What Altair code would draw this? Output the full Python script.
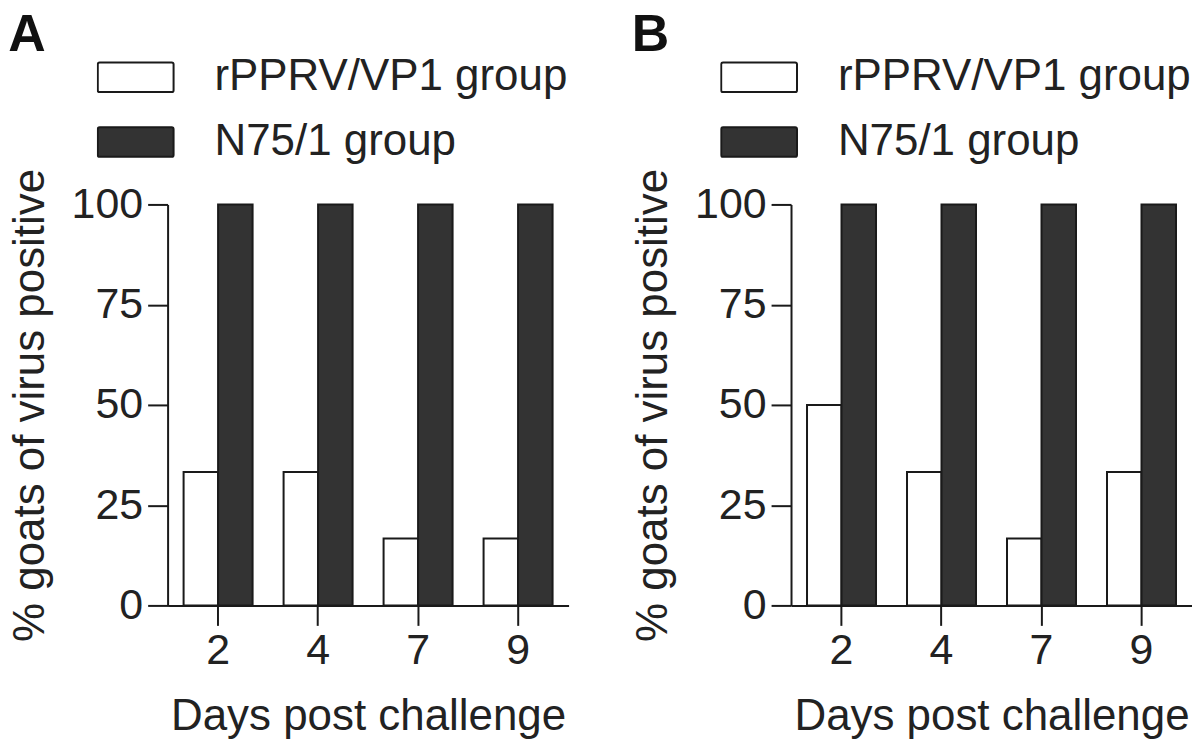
import altair as alt
import pandas as pd

days = ["2", "4", "7", "9"]
groups = ["rPPRV/VP1 group", "N75/1 group"]
a_rpprv = [33.3, 33.3, 16.7, 16.7]
a_n75 = [100, 100, 100, 100]
b_rpprv = [50, 33.3, 16.7, 33.3]
b_n75 = [100, 100, 100, 100]
y_ticks = [0, 25, 50, 75, 100]

FONT = "Liberation Sans"
INK = "#1a1a1a"
BOX = ("M-0.95,-0.39 Q-1,-0.39 -1,-0.34 L-1,0.34 Q-1,0.39 -0.95,0.39 "
       "L0.95,0.39 Q1,0.39 1,0.34 L1,-0.34 Q1,-0.39 0.95,-0.39 Z")


def frame(r, n):
    rows = []
    for d, v in zip(days, r):
        rows.append({"day": d, "group": groups[0], "pct": v})
    for d, v in zip(days, n):
        rows.append({"day": d, "group": groups[1], "pct": v})
    return pd.DataFrame(rows)


def panel(df, letter):
    return (
        alt.Chart(
            df,
            title=alt.TitleParams(letter, anchor="start", frame="bounds", fontSize=52,
                                  fontWeight="bold", font=FONT, color="#111", offset=-12),
        )
        .mark_bar(stroke=INK, strokeWidth=2)
        .encode(
            x=alt.X("day:N", sort=days,
                    scale=alt.Scale(paddingInner=0.31, paddingOuter=0.16),
                    axis=alt.Axis(title="Days post challenge", labelAngle=0,
                                  labelPadding=4, titlePadding=22)),
            xOffset=alt.XOffset("group:N", sort=groups,
                                scale=alt.Scale(paddingInner=0, paddingOuter=0)),
            y=alt.Y("pct:Q", scale=alt.Scale(domain=[0, 100], nice=False),
                    axis=alt.Axis(values=y_ticks, title="% goats of virus positive",
                                  labelPadding=5, titlePadding=19)),
            color=alt.Color(
                "group:N", sort=groups,
                scale=alt.Scale(domain=groups, range=["#ffffff", "#333333"]),
                legend=alt.Legend(
                    title=None, orient="none", legendX=-71, legendY=-155,
                    symbolType=BOX, symbolSize=5776, symbolStrokeColor=INK,
                    symbolStrokeWidth=2, symbolOpacity=1,
                    labelFontSize=44, labelFont=FONT, labelColor="#222",
                    labelOffset=40, labelLimit=0, rowPadding=10, clipHeight=55,
                ),
            ),
        )
        .properties(width=402, height=402)
    )


chart = (
    alt.hconcat(panel(frame(a_rpprv, a_n75), "A"), panel(frame(b_rpprv, b_n75), "B"), spacing=63)
    .resolve_scale(color="independent", x="independent", y="independent")
    .properties(padding=0)
    .configure_view(stroke=None)
    .configure_axis(
        domainColor=INK, domainWidth=2, tickColor=INK, tickWidth=2, tickSize=20,
        labelFont=FONT, labelFontSize=43, labelColor="#222",
        titleFont=FONT, titleFontSize=44, titleFontWeight="normal", titleColor="#222",
        grid=False,
    )
)

chart.save("out.html", embed_options={"renderer": "svg", "actions": False})
